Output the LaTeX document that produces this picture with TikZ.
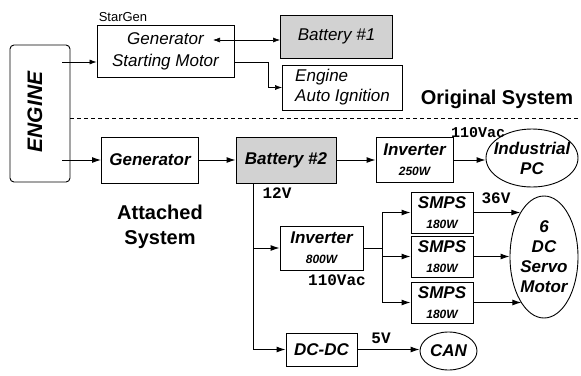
\documentclass[tikz,border=0pt]{standalone}
\usepackage{fontspec}
\setmainfont{Liberation Sans}
\setmonofont{Liberation Mono}
\usetikzlibrary{shapes.geometric,arrows.meta}

\newcommand{\topfont}{\fontsize{17}{22}\selectfont\itshape}
\newcommand{\lowfont}{\fontsize{17}{20}\selectfont\bfseries\itshape}
\newcommand{\wattfont}{\fontsize{12}{13}\selectfont\bfseries\itshape}
\newcommand{\voltfont}{\fontsize{16}{18}\selectfont\ttfamily\bfseries}
\newcommand{\titlefont}{\fontsize{20}{25}\selectfont\bfseries}
\newcommand{\engfont}{\fontsize{21}{24}\selectfont\bfseries\itshape}
\newcommand{\tagfont}{\fontsize{13}{15}\selectfont}

\tikzset{
  blk/.style={draw, line width=0.9pt, inner sep=2pt},
  batt/.style={blk, fill=gray!35},
  oval/.style={ellipse, draw, line width=0.9pt, inner sep=0pt},
  arr/.style={-{Latex[length=9pt,width=6pt]}, line width=1pt},
  thinarr/.style={-{Latex[length=7pt,width=5pt]}, line width=0.6pt},
  volt/.style={font=\voltfont, inner sep=0pt}
}

\begin{document}
\begin{tikzpicture}[x=1pt,y=-1pt]
    \useasboundingbox (0,0) rectangle (581,375);
    % original system
    \node[blk, rounded corners=4pt, minimum width=60pt, minimum height=137pt] (engine) at (40,113.5) {};
    \node[rotate=90, font=\engfont] (enginetxt) at (35,112) {ENGINE};
    \node[font=\tagfont] (stargentag) at (123,17) {StarGen};
    \node[blk, minimum width=137pt, minimum height=52pt, align=center, font=\topfont] (stargen) at (165.5,51) {Generator\\Starting Motor};
    \node[batt, minimum width=112pt, minimum height=43pt, font=\topfont] (bat1) at (336.5,36.5) {Battery \#1};
    \node[blk, minimum width=120pt, minimum height=45pt, align=left, font=\topfont] (ign) at (342.5,87.5) {Engine\\[-2pt]Auto Ignition};
    \node[font=\titlefont] (orig) at (497,99) {Original System};
    \coordinate (engtop) at (62,62);
    \coordinate (gentip) at (213,40);
    \draw[thinarr] (engtop) -- (stargen.west |- engtop);
    \draw[thinarr, {Latex[length=7pt,width=5pt]}-{Latex[length=7pt,width=5pt]}] (gentip) -- (bat1.west |- gentip);
    \draw[thinarr] (stargen.east |- engtop) -- ++(34,0) |- (ign.west);
    \coordinate (dashl) at (engine.east |- 0,118);
    \coordinate (dashr) at (581,118);
    \draw[line width=1pt, dash pattern=on 4pt off 3pt] (dashl) -- (dashr);
    % attached system
    \node[font=\titlefont, align=center] (att) at (160,227) {Attached\\System};
    \node[blk, minimum width=97pt, minimum height=46pt, font=\lowfont] (gen) at (150,160) {Generator};
    \node[batt, minimum width=100pt, minimum height=46pt, font=\lowfont] (bat2) at (286,160) {Battery \#2};
    \node[blk, minimum width=77pt, minimum height=45pt, align=center, font=\lowfont] (inv1) at (414.5,160) {Inverter\\{\wattfont 250W}};
    \node[oval, minimum width=92pt, minimum height=58pt] (pc) at (532,158) {};
    \node[font=\lowfont, align=center] (pctxt) at (pc) {Industrial\\PC};
    \node[volt, font=\fontsize{15}{17}\selectfont\ttfamily\bfseries] (v110a) at (478,133) {110Vac};
    \node[volt] (v12) at (277,193) {12V};
    \node[blk, minimum width=83pt, minimum height=44pt, align=center, font=\lowfont] (inv2) at (321.5,248) {Inverter\\{\wattfont 800W}};
    \node[volt] (v110b) at (337,280) {110Vac};
    \foreach \n/\y in {1/212.5,2/256.5,3/302.5}
        \node[blk, minimum width=62pt, minimum height=41pt, align=center, font=\lowfont, inner sep=1pt] (smps\n) at (442,\y) {SMPS\\{\wattfont 180W}};
    \node[oval, minimum width=68pt, minimum height=122pt, align=center, font=\lowfont] (servo) at (544,257) {6\\DC\\Servo\\Motor};
    \node[volt] (v36) at (496,198) {36V};
    \node[blk, minimum width=71pt, minimum height=33pt, font=\lowfont] (dcdc) at (321.5,349.5) {DC-DC};
    \node[oval, minimum width=57pt, minimum height=38pt, font=\lowfont] (can) at (448.5,351) {CAN};
    \node[volt] (v5) at (381,338) {5V};
    \coordinate (engbot) at (62,160);
    \coordinate (bus) at ([xshift=-33pt]bat2.south);
    \coordinate (split) at ([xshift=19pt]inv2.east);
    \draw[arr] (engbot) -- (gen.west);
    \draw[arr] (gen.east) -- (bat2.west);
    \draw[arr] (bat2.east) -- (inv1.west);
    \draw[arr] (inv1.east) -- (inv1.east -| pc.west);
    \draw[arr] (bus) |- (dcdc.west);
    \draw[arr] (bus |- inv2.west) -- (inv2.west);
    \draw[line width=1pt] (inv2.east) -- (split);
    \foreach \n in {1,2,3}
        \draw[arr] (split) |- (smps\n.west);
    \draw[arr] (smps1.east) -- (smps1.east -| servo.118);
    \draw[arr] (smps2.east) -- (smps2.east -| servo.west);
    \draw[arr] (smps3.east) -- (smps3.east -| servo.244);
    \draw[arr] (dcdc.east) -- (dcdc.east -| can.west);
\end{tikzpicture}
\end{document}
